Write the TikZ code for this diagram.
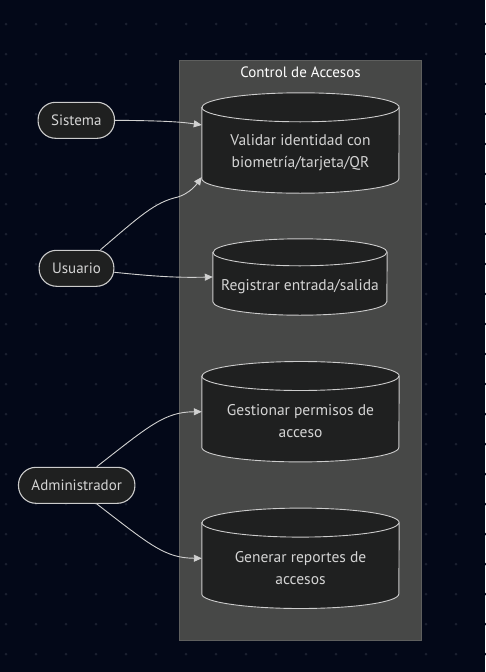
\documentclass[tikz,border=0pt]{standalone}
\usepackage{fontspec}
\setmainfont{PT Sans}
\usetikzlibrary{calc}
\usetikzlibrary{arrows.meta}

\definecolor{bgcol}{HTML}{030818}
\definecolor{dotcol}{HTML}{1B2030}
\definecolor{clusterfill}{HTML}{474847}
\definecolor{clusterline}{HTML}{5E5F5E}
\definecolor{nodefill}{HTML}{1F2020}
\definecolor{nodeline}{HTML}{CCCCCC}
\definecolor{nodetext}{HTML}{D4D4D4}
\definecolor{edgecol}{HTML}{D0D0D0}

\tikzset{
    actor/.style={draw=nodeline, fill=nodefill, text=nodetext, line width=1.1pt,
        rounded corners=17.5pt, minimum height=36pt, inner xsep=13pt,
        font=\fontsize{15}{18}\selectfont},
    usecase/.style={draw=none, minimum width=197pt, minimum height=100pt, inner sep=0pt},
    cylline/.style={draw=nodeline, fill=nodefill, line width=0.9pt},
    casetext/.style={text=nodetext, align=center, font=\fontsize{15.5}{22}\selectfont},
    cluster/.style={draw=clusterline, fill=clusterfill, line width=1pt,
        minimum width=242pt, minimum height=580pt, inner sep=0pt},
    link/.style={draw=edgecol, line width=0.9pt, -{Triangle[length=8pt,width=7pt]}},
}

% cylinder round a named node: #1 name, #2 x radius, #3 y radius
\newcommand{\cylround}[3]{%
    \filldraw[cylline] ($(#1.north west)+(0,#3)$) -- ($(#1.south west)+(0,-#3)$)
        arc[start angle=180, end angle=0, x radius=#2, y radius=#3]
        -- ($(#1.north east)+(0,#3)$)
        arc[start angle=0, end angle=-180, x radius=#2, y radius=#3] -- cycle;
    \draw[cylline, fill=none] ($(#1.north west)+(0,#3)$)
        arc[start angle=180, end angle=0, x radius=#2, y radius=#3];
}

\begin{document}
\begin{tikzpicture}[x=1pt, y=-1pt]
        \fill[bgcol] (0,0) rectangle (485,672);
        \useasboundingbox (0,0) rectangle (485,672);
        \foreach \i in {0,...,16}
            \foreach \j in {0,...,21}
                \fill[dotcol] (6+30*\i, 24+30*\j) circle (1.5pt);
        % cluster
        \node[cluster] (ctrl) at (300.5,350.5) {};
        \node[text=white, font=\fontsize{15}{18}\selectfont] (ctrltitle) at (300.5,72) {Control de Accesos};
        % use cases
        \node[usecase] (validar) at (300.5,143) {};
        \node[usecase, minimum width=174pt, minimum height=76pt] (registrar) at (300,277) {};
        \node[usecase] (gestionar) at (300.5,411.7) {};
        \node[usecase] (generar) at (300.5,558.3) {};
        \cylround{validar}{98.5}{14.5}
        \cylround{registrar}{87}{13.5}
        \cylround{gestionar}{98.5}{14.5}
        \cylround{generar}{98.5}{14.5}
        \node[casetext] (validartxt) at ($(validar)+(0,9.5)$) {Validar identidad con\\biometría/tarjeta/QR};
        \node[casetext] (registrartxt) at ($(registrar)+(0,9.5)$) {Registrar entrada/salida};
        \node[casetext] (gestionartxt) at ($(gestionar)+(0,9.5)$) {Gestionar permisos de\\acceso};
        \node[casetext] (generartxt) at ($(generar)+(0,9.5)$) {Generar reportes de\\accesos};
        % actors
        \node[actor] (sistema) at (76.3,120.3) {Sistema};
        \node[actor] (usuario) at (76.5,268.3) {Usuario};
        \node[actor] (admin) at (76.7,485.3) {Administrador};
        % links
        \draw[link] (sistema.east) .. controls (165,120.7) and (182,122) .. ($(validar.west)+(0,-18)$);
        \draw[link] ($(usuario.north)+(24,0)$) .. controls (140,216) and (155,202) .. (178,197)
            .. controls (190,193) and (196,185) .. ($(validar.west)+(0,34)$);
        \draw[link] ($(usuario.east)+(0,4)$) .. controls (160,277) and (180,277.7) .. (registrar.west);
        \draw[link] ($(admin.north)+(20,0)$) .. controls (150,425) and (165,412) .. (gestionar.west);
        \draw[link] ($(admin.south)+(20,0)$) .. controls (150,545) and (165,558) .. (generar.west);
\end{tikzpicture}
\end{document}
